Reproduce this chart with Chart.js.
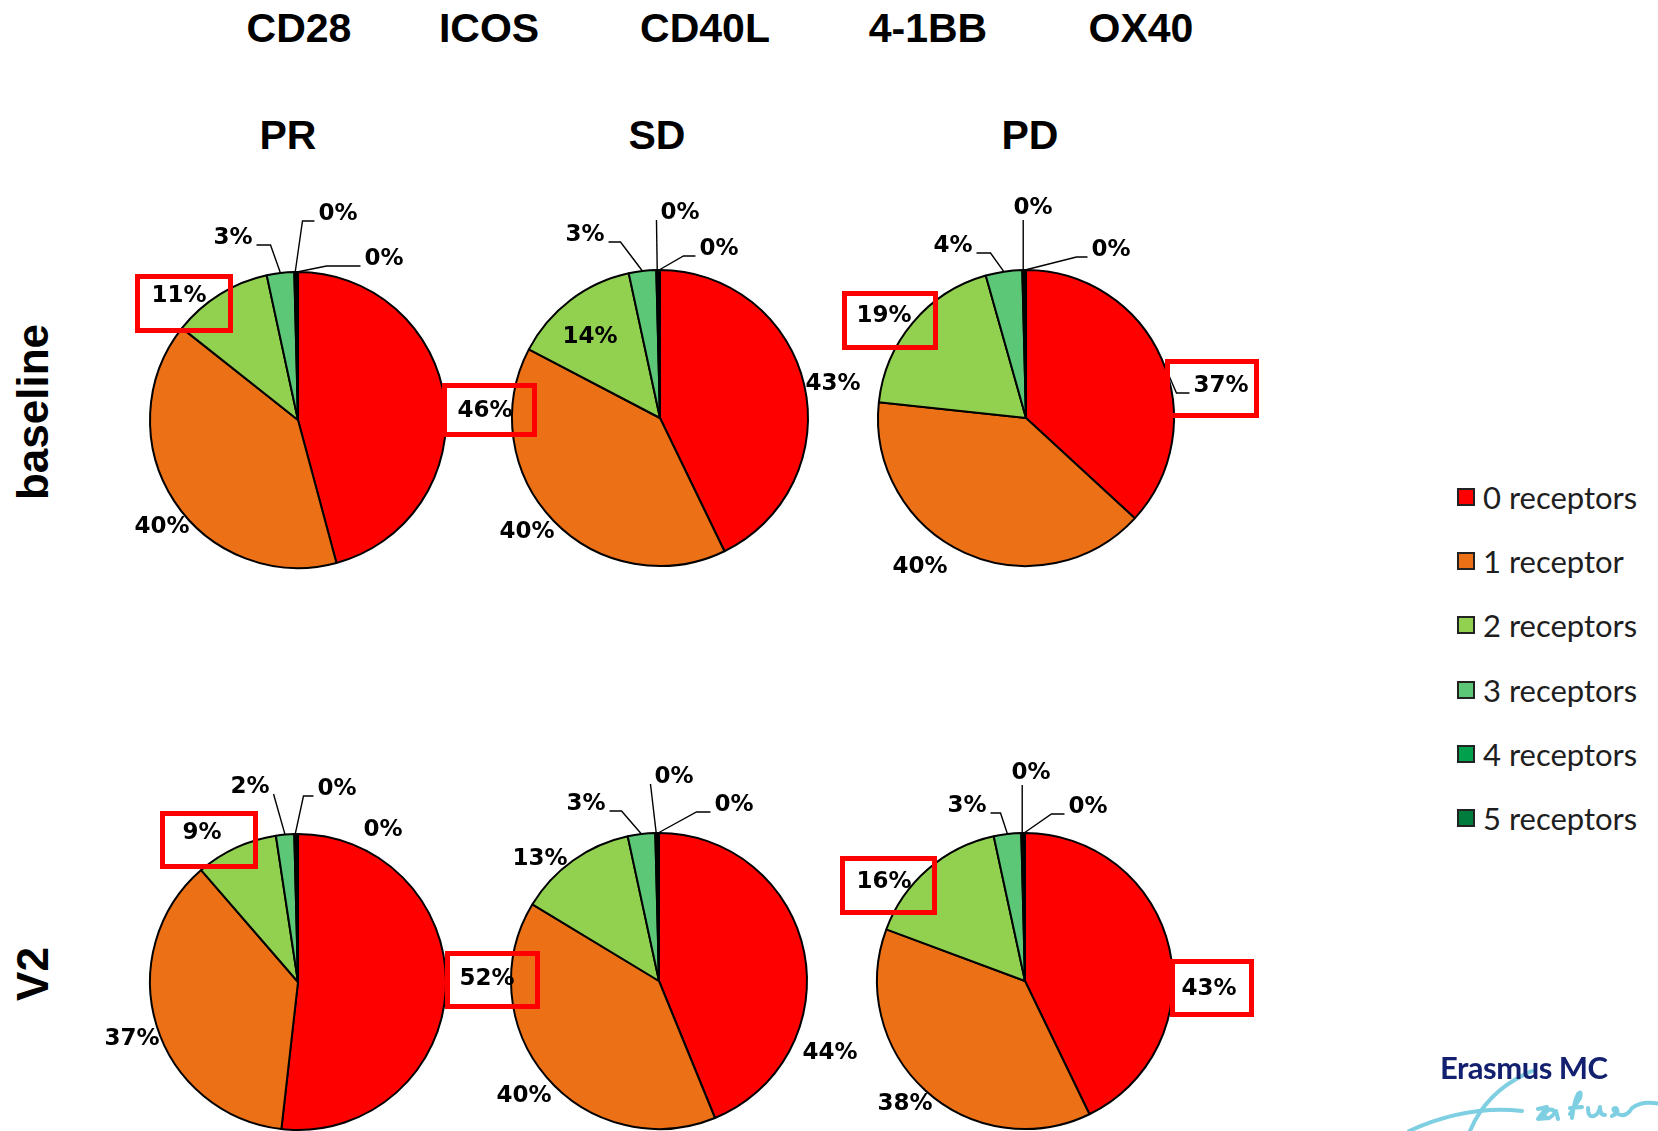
<!DOCTYPE html>
<html>
<head>
<meta charset="utf-8">
<title>Costimulatory receptor co-expression</title>
<script src="https://cdn.jsdelivr.net/npm/chart.js@4/dist/chart.umd.min.js"></script>
<style>
  html, body { margin: 0; padding: 0; background: #fff; }
  body { position: relative; width: 1658px; height: 1131px; overflow: hidden; }
  .title { position: absolute; transform: translate(-50%, -50%); font: bold 41px "Liberation Sans", Arial, sans-serif; line-height: 1; color: #000; white-space: nowrap; }
  .row { position: absolute; transform: translate(-50%, -50%) rotate(-90deg); font: bold 44px "Liberation Sans", Arial, sans-serif; line-height: 1; color: #000; white-space: nowrap; }
  .pie { position: absolute; }
  .box { position: absolute; box-sizing: border-box; border: 5px solid #ff0000; z-index: 10; }
  #legend { position: absolute; left: 1457px; top: 480px; z-index: 10; }
  .item { position: absolute; left: 0; height: 34px; white-space: nowrap; font: 31px Lato, "Noto Sans", sans-serif; color: #1e1e1e; }
  .swatch { position: absolute; left: 0; top: 8px; width: 18px; height: 18px; box-sizing: border-box; border: 2px solid #222; }
  .item span.txt { position: absolute; left: 26px; top: 0; line-height: 34px; }
  #logo { position: absolute; left: 1440px; top: 1052px; font: bold 31px Lato, "Noto Sans", sans-serif; color: #13206f; letter-spacing: -0.5px; line-height: 1; z-index: 11; white-space: nowrap; }
  #sign { position: absolute; left: 0; top: 0; z-index: 10; }
</style>
</head>
<body>

<script>
// Marker panel and groups
const markers = ['CD28', 'ICOS', 'CD40L', '4-1BB', 'OX40'];
const responseGroups = ['PR', 'SD', 'PD'];
const timepoints = ['baseline', 'V2'];

// Number of co-expressed receptors (slice categories)
const receptorLabels = ['0 receptors', '1 receptor', '2 receptors', '3 receptors', '4 receptors', '5 receptors'];
const receptorColors = ['#ff0000', '#ec7116', '#92d050', '#5bc777', '#00a04d', '#007d3c'];

// Share of cells (%) per receptor count
const baselinePR = [46, 40, 11, 3, 0.2, 0.2];
const baselineSD = [43, 40, 14, 3, 0.2, 0.2];
const baselinePD = [37, 40, 19, 4, 0.2, 0.2];
const v2PR = [52, 37, 9, 2, 0.2, 0.2];
const v2SD = [44, 40, 13, 3, 0.2, 0.2];
const v2PD = [43, 38, 16, 3, 0.2, 0.2];

// ---- layout ----
const PIE_R = 148;
const CANVAS_W = 480, CANVAS_H = 520;

// label placement per slice: [dx, dy from pie centre, leader side, horizontal run]
const panels = [
  { data: baselinePR, cx: 298, cy: 420, z: 3, place: [
    [187, -9], [-136, 107], [-119, -124], [-65, -182, 'R', 14], [40, -206, 'L', 12], [86, -161, 'L', 34] ] },
  { data: baselineSD, cx: 660, cy: 418, z: 2, place: [
    [173, -34], [-133, 114], [-70, -81], [-75, -183, 'R', 12], [20, -205, 'L', 0], [59, -169, 'L', 12] ] },
  { data: baselinePD, cx: 1026, cy: 418, z: 1, place: [
    [195, -32, 'L', 13], [-106, 149], [-142, -102], [-73, -172, 'R', 14], [7, -210, 'D'], [85, -168, 'L', 11] ] },
  { data: v2PR, cx: 298, cy: 982, z: 3, place: [
    [189, -3], [-166, 57], [-96, -149], [-48, -195, 'R', 0], [39, -193, 'L', 10], [85, -152] ] },
  { data: v2SD, cx: 659, cy: 981, z: 2, place: [
    [171, 72], [-135, 115], [-119, -122], [-73, -177, 'R', 12], [15, -204, 'L', 0], [75, -176, 'L', 14] ] },
  { data: v2PD, cx: 1025, cy: 981, z: 1, place: [
    [184, 8], [-120, 123], [-141, -99], [-58, -175, 'R', 10], [6, -208, 'D'], [63, -174, 'L', 13] ] }
];

const titlePos = [[299, 28], [489, 28], [705, 28], [928, 28], [1141, 28]];
const groupPos = [[288, 135], [657, 135], [1030, 135]];
const rowPos = [[33, 412], [33, 974]];
const highlightBoxes = [
  [135, 274, 233, 333], [442, 383, 537, 437], [842, 291, 938, 350], [1165, 359, 1259, 418],
  [160, 811, 258, 869], [445, 951, 540, 1009], [840, 856, 937, 915], [1170, 959, 1254, 1017]
];

// Percentage labels with Excel-style leader lines
const sliceLabels = {
  id: 'sliceLabels',
  afterDatasetsDraw(chart, args, opts) {
    const ctx = chart.ctx;
    const meta = chart.getDatasetMeta(0);
    const values = chart.data.datasets[0].data;
    ctx.save();
    ctx.font = 'bold 23px "DejaVu Sans", Verdana, sans-serif';
    ctx.textAlign = 'center';
    ctx.textBaseline = 'middle';
    ctx.fillStyle = '#000';
    ctx.strokeStyle = '#000';
    ctx.lineWidth = 1.4;
    meta.data.forEach((arc, i) => {
      const p = opts.place[i];
      if (!p) return;
      const { x, y, startAngle, endAngle, outerRadius } =
        arc.getProps(['x', 'y', 'startAngle', 'endAngle', 'outerRadius'], true);
      const lx = x + p[0], ly = y + p[1];
      const text = Math.round(values[i]) + '%';
      const w = ctx.measureText(text).width;
      if (p[2]) {
        const mid = (startAngle + endAngle) / 2;
        const ex = x + Math.cos(mid) * outerRadius;
        const ey = y + Math.sin(mid) * outerRadius;
        ctx.beginPath();
        if (p[2] === 'D') {
          ctx.moveTo(ex, ly + 12);
        } else {
          const dir = p[2] === 'L' ? -1 : 1;
          const sx = lx + dir * (w / 2 + 4);
          const sy = ly + 7;
          ctx.moveTo(sx, sy);
          ctx.lineTo(sx + dir * (p[3] || 0), sy);
        }
        ctx.lineTo(ex, ey);
        ctx.stroke();
      }
      ctx.fillText(text, lx, ly);
    });
    ctx.restore();
  }
};

function addText(cls, text, x, y) {
  const d = document.createElement('div');
  d.className = cls;
  d.textContent = text;
  d.style.left = x + 'px';
  d.style.top = y + 'px';
  document.body.appendChild(d);
}

markers.forEach((m, i) => addText('title', m, titlePos[i][0], titlePos[i][1]));
responseGroups.forEach((g, i) => addText('title', g, groupPos[i][0], groupPos[i][1]));
timepoints.forEach((t, i) => addText('row', t, rowPos[i][0], rowPos[i][1]));

panels.forEach(pn => {
  const c = document.createElement('canvas');
  c.className = 'pie';
  c.width = CANVAS_W;
  c.height = CANVAS_H;
  c.style.left = (pn.cx - CANVAS_W / 2) + 'px';
  c.style.top = (pn.cy - CANVAS_H / 2) + 'px';
  c.style.zIndex = pn.z;
  document.body.appendChild(c);
  new Chart(c, {
    type: 'pie',
    data: {
      labels: receptorLabels,
      datasets: [{
        data: pn.data,
        backgroundColor: receptorColors,
        borderColor: '#000',
        borderWidth: 2,
        radius: PIE_R
      }]
    },
    options: {
      responsive: false,
      animation: false,
      events: [],
      radius: PIE_R,
      layout: { padding: 0 },
      plugins: {
        legend: { display: false },
        tooltip: { enabled: false },
        sliceLabels: { place: pn.place }
      }
    },
    plugins: [sliceLabels]
  });
});

highlightBoxes.forEach(b => {
  const d = document.createElement('div');
  d.className = 'box';
  d.style.left = b[0] + 'px';
  d.style.top = b[1] + 'px';
  d.style.width = (b[2] - b[0]) + 'px';
  d.style.height = (b[3] - b[1]) + 'px';
  document.body.appendChild(d);
});

// Legend
const legend = document.createElement('div');
legend.id = 'legend';
receptorLabels.forEach((lab, i) => {
  const it = document.createElement('div');
  it.className = 'item';
  it.style.top = (i * 64.2) + 'px';
  const sw = document.createElement('div');
  sw.className = 'swatch';
  sw.style.background = receptorColors[i];
  const tx = document.createElement('span');
  tx.className = 'txt';
  tx.textContent = lab;
  it.appendChild(sw);
  it.appendChild(tx);
  legend.appendChild(it);
});
document.body.appendChild(legend);

// Institution mark
const logo = document.createElement('div');
logo.id = 'logo';
logo.textContent = 'Erasmus MC';
document.body.appendChild(logo);
const NS = 'http://www.w3.org/2000/svg';
const svg = document.createElementNS(NS, 'svg');
svg.setAttribute('id', 'sign');
svg.setAttribute('width', '1658');
svg.setAttribute('height', '1131');
[
  'M1409,1131 C1440,1117 1478,1106 1522,1111',
  'M1470,1131 C1479,1109 1497,1086 1532,1071',
  'M1538,1109 l9,-2 l-9,12 l11,-1 M1556,1113 q-6,-8 -12,2 q4,8 12,-4 l2,8 M1572,1118 q2,-16 6,-24 q4,-4 2,4 l-10,16 M1570,1108 l12,-1 M1588,1108 q0,10 6,8 q5,-2 6,-9 q0,8 5,8 M1612,1116 q8,-4 4,-8 q-6,0 2,6 q8,4 14,-6 q10,-8 28,-4'
].forEach(dpath => {
  const p = document.createElementNS(NS, 'path');
  p.setAttribute('d', dpath);
  p.setAttribute('fill', 'none');
  p.setAttribute('stroke', '#7fcfe2');
  p.setAttribute('stroke-width', '4');
  p.setAttribute('stroke-linecap', 'round');
  p.setAttribute('stroke-linejoin', 'round');
  svg.appendChild(p);
});
document.body.appendChild(svg);
</script>
</body>
</html>
